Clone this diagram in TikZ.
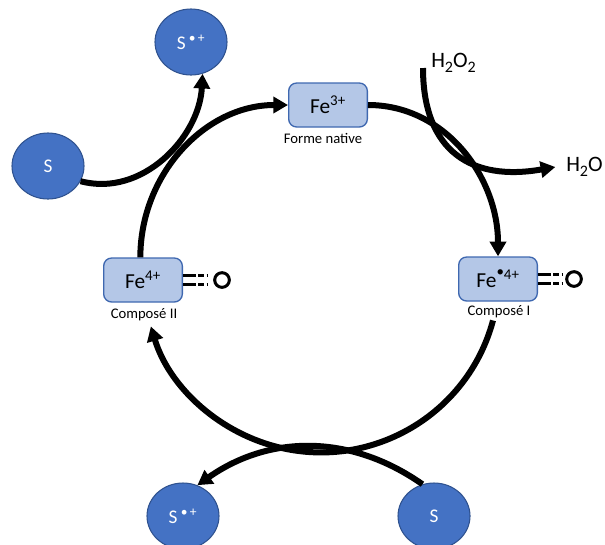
\documentclass[tikz,border=0pt]{standalone}
\usepackage{fontspec}
\setmainfont{Carlito}
\usetikzlibrary{arrows.meta,shapes.geometric}
\definecolor{sfill}{HTML}{4472C4}
\definecolor{sdraw}{HTML}{2F528F}
\definecolor{bfill}{HTML}{B4C7E7}
\definecolor{bdraw}{HTML}{3F68B0}
\newcommand{\lowtwo}{\raisebox{-3.5pt}{\fontsize{12}{12}\selectfont 2}}
\begin{document}
\begin{tikzpicture}[x=0.75pt,y=0.75pt,
  sub/.style={ellipse, fill=sfill, draw=sdraw, line width=0.8pt, minimum width=54pt, minimum height=49.5pt, inner sep=0pt, text=white, font=\fontsize{14.5}{16}\selectfont},
  fe/.style={rectangle, rounded corners=6pt, fill=bfill, draw=bdraw, line width=1pt, minimum width=59pt, minimum height=33pt, inner sep=0pt, font=\fontsize{16}{18}\selectfont},
  lab/.style={font=\fontsize{11}{13}\selectfont, inner sep=0pt},
  chem/.style={font=\fontsize{16.5}{18}\selectfont, inner sep=0pt, anchor=west},
  cyc/.style={line width=4.5pt, -{Triangle[length=11pt,width=12pt]}},
  sarr/.style={line width=4.5pt, -{Triangle[length=11pt,width=12pt]}},
  dbl/.style={line width=2.4pt, dash pattern=on 9.5pt off 2pt on 4.5pt off 1.75pt on 1.25pt off 20pt},
  oxy/.style={circle, draw, line width=2.25pt, minimum size=11pt, inner sep=0pt}
]
\useasboundingbox (0,0) rectangle (605,-544);

% enzyme states
\node[fe] (fe3) at (328,-105) {Fe\textsuperscript{3+}};
\node[lab] (ln) at (323,-138) {Forme native};
\node[fe] (c1) at (498,-279) {Fe\textsuperscript{\raisebox{2pt}{•}4+}};
\node[lab] (l1) at (499,-312) {Composé I};
\node[fe] (c2) at (143,-280) {Fe\textsuperscript{4+}};
\node[lab] (l2) at (144,-315) {Composé II};

% oxo groups
\node[oxy] (o1) at (574,-279) {};
\node[oxy] (o2) at (222,-280) {};
\draw[dbl] ([yshift=3.2pt]c1.east) -- ([yshift=3.2pt]c1.east -| o1.west);
\draw[dbl] ([yshift=-3.2pt]c1.east) -- ([yshift=-3.2pt]c1.east -| o1.west);
\draw[dbl] ([yshift=3.2pt]c2.east) -- ([yshift=3.2pt]c2.east -| o2.west);
\draw[dbl] ([yshift=-3.2pt]c2.east) -- ([yshift=-3.2pt]c2.east -| o2.west);

% substrates
\node[sub] (s1) at (48,-166) {S};
\node[sub] (sp1) at (191,-42) {S\,\textsuperscript{•\,+}};
\node[sub] (s2) at (434,-516) {S};
\node[sub] (sp2) at (183,-516) {S\,\textsuperscript{•\,+}};

% H2O2 / H2O
\node[chem] (h2o2) at (431,-63) {H\lowtwo O\lowtwo};
\node[chem] (h2o) at (566,-167) {H\lowtwo O};
\coordinate (hs) at (423,-68);

% catalytic cycle
\draw[cyc] ([xshift=-2pt]c2.north) to[out=90,in=180] (fe3.west);
\draw[cyc] (fe3.east) to[out=0,in=90] (c1.north);
\draw[cyc] ([shift={(-6,-2)}]l1.south) arc[start angle=-15,end angle=-163,radius=178];

% side reactions
\draw[sarr] (s1.-25) to[out=-15,in=-93] (sp1.-70);
\draw[sarr] (s2.110) to[out=145,in=35] (sp2.65);
\draw[sarr] (hs) to[out=-90,in=190,looseness=1.3] ([xshift=-8pt]h2o.west);
\end{tikzpicture}
\end{document}
